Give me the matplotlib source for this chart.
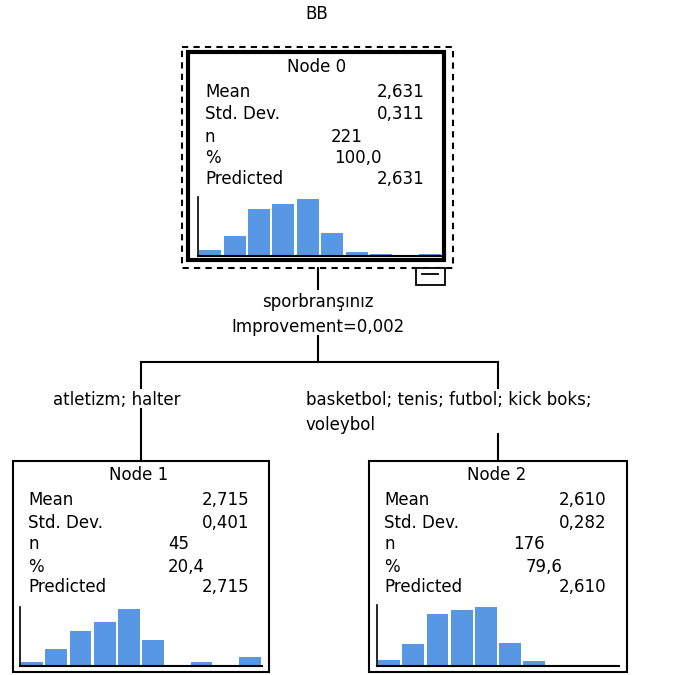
import matplotlib.pyplot as plt
from matplotlib.patches import Rectangle

# tree statistics
target = 'BB'
split_var = 'sporbranşınız'
improvement = '0,002'
branch_left = 'atletizm; halter'
branch_right = ['basketbol; tenis; futbol; kick boks;', 'voleybol']

node_names = ['Node 0', 'Node 1', 'Node 2']
means = ['2,631', '2,715', '2,610']
std_devs = ['0,311', '0,401', '0,282']
n_cases = ['221', '45', '176']
pcts = ['100,0', '20,4', '79,6']
predicted = ['2,631', '2,715', '2,610']

# histogram counts per node (10 bins)
hist0 = [6, 21, 49, 54, 59, 24, 4, 2, 0, 2]
hist1 = [1, 4, 8, 10, 13, 6, 0, 1, 0, 2]
hist2 = [5, 17, 41, 44, 46, 18, 4, 1, 0, 0]
hists = [hist0, hist1, hist2]

W, H = 683, 675
fig = plt.figure(figsize=(W / 100, H / 100), dpi=100)
ax = fig.add_axes([0, 0, 1, 1])
ax.set_xlim(0, W)
ax.set_ylim(H, 0)
ax.axis('off')

fs = 12
bar_color = '#5897E3'

# layout of each node: box, title, label x, value right x, n/% left x, row ys, histogram
layout = [
    dict(box=(188, 52, 444, 260), title=(317, 67), lx=205, rx=425, nx=331, px=334,
         rows=[92, 114, 137, 158, 179], hist=(198, 197, 442, 256), lw=3.0),
    dict(box=(13, 461, 269, 672), title=(139, 475), lx=28, rx=249, nx=168, px=168,
         rows=[500, 523, 544, 567, 587], hist=(20, 607, 262, 666), lw=1.5),
    dict(box=(369, 461, 627, 672), title=(497, 475), lx=384, rx=606, nx=513, px=526,
         rows=[500, 523, 544, 567, 587], hist=(377, 605, 619, 666), lw=1.5),
]


def draw_node(i):
    L = layout[i]
    x0, y0, x1, y1 = L['box']
    ax.add_patch(Rectangle((x0, y0), x1 - x0, y1 - y0, fill=False,
                           edgecolor='black', linewidth=L['lw']))
    ax.text(*L['title'], node_names[i], ha='center', va='center', fontsize=fs)
    labels = ['Mean', 'Std. Dev.', 'n', '%', 'Predicted']
    for lab, y in zip(labels, L['rows']):
        ax.text(L['lx'], y, lab, ha='left', va='center', fontsize=fs)
    r = L['rows']
    ax.text(L['rx'], r[0], means[i], ha='right', va='center', fontsize=fs)
    ax.text(L['rx'], r[1], std_devs[i], ha='right', va='center', fontsize=fs)
    ax.text(L['nx'], r[2], n_cases[i], ha='left', va='center', fontsize=fs)
    ax.text(L['px'], r[3], pcts[i], ha='left', va='center', fontsize=fs)
    ax.text(L['rx'], r[4], predicted[i], ha='right', va='center', fontsize=fs)

    # histogram in its own small axes
    hx0, hy0, hx1, hy1 = L['hist']
    hax = fig.add_axes([hx0 / W, 1 - hy1 / H, (hx1 - hx0) / W, (hy1 - hy0) / H])
    counts = hists[i]
    hax.bar(range(len(counts)), counts, width=0.9, color=bar_color, edgecolor='none')
    hax.set_xlim(-0.5, len(counts) - 0.5)
    hax.set_ylim(0, max(counts) * 1.04)
    hax.set_xticks([])
    hax.set_yticks([])
    for s in ['top', 'right']:
        hax.spines[s].set_visible(False)
    hax.spines['left'].set_linewidth(1.2)
    hax.spines['bottom'].set_linewidth(1.5)
    hax.patch.set_alpha(0)


for i in range(3):
    draw_node(i)

# selected-node dashed frame and collapse marker on the root
ax.add_patch(Rectangle((182, 47), 453 - 182, 268 - 47, fill=False, edgecolor='black',
                       linewidth=1.5, linestyle=(0, (3, 2.5))))
ax.add_patch(Rectangle((416, 268), 445 - 416, 285 - 268, facecolor='white',
                       edgecolor='black', linewidth=1.3))
ax.plot([422, 438], [274, 274], color='black', linewidth=1.3)

ax.text(317, 14, target, ha='center', va='center', fontsize=fs)

lc = dict(color='black', linewidth=1.5)
ax.plot([318, 318], [268, 289], **lc)
ax.text(318, 302, split_var, ha='center', va='center', fontsize=fs)
ax.text(318, 327, 'Improvement=' + improvement, ha='center', va='center', fontsize=fs)
ax.plot([318, 318], [336, 362], **lc)
ax.plot([141, 498], [362, 362], **lc)
ax.plot([141, 141], [362, 388], **lc)
ax.plot([498, 498], [362, 388], **lc)

ax.text(53, 400, branch_left, ha='left', va='center', fontsize=fs)
ax.text(306, 400, branch_right[0], ha='left', va='center', fontsize=fs)
ax.text(306, 425, branch_right[1], ha='left', va='center', fontsize=fs)
ax.plot([141, 141], [409, 461], **lc)
ax.plot([498, 498], [434, 461], **lc)

fig.savefig('out.png', dpi=100)
